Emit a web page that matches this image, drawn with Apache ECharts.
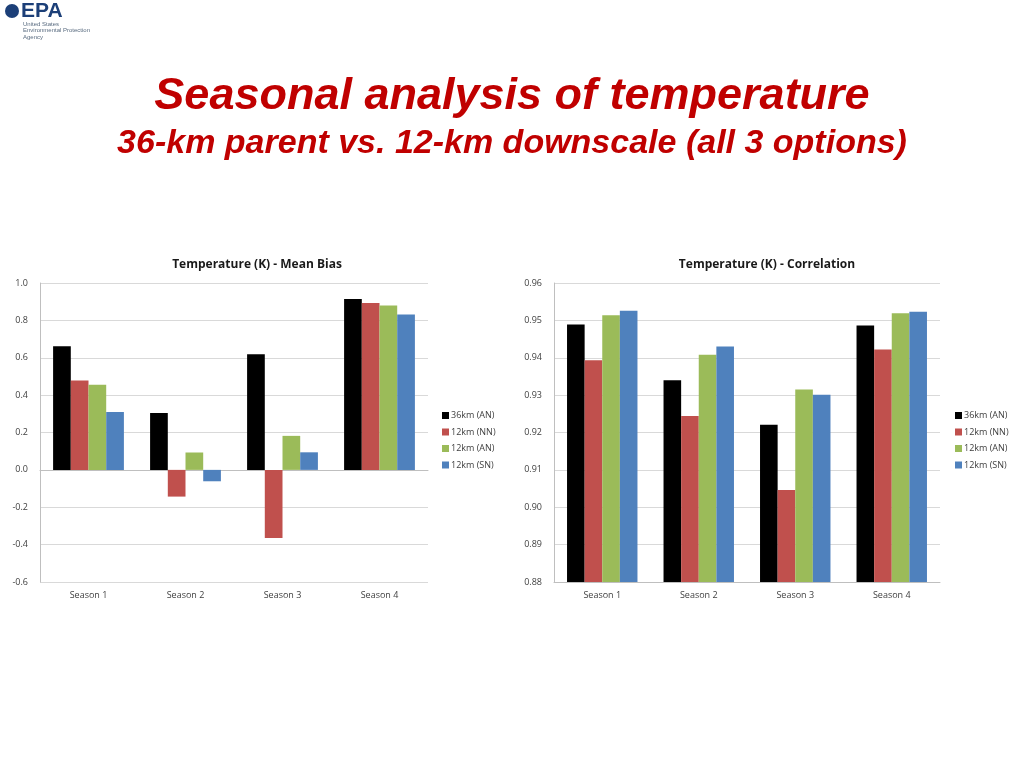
<!DOCTYPE html>
<html>
<head>
<meta charset="utf-8">
<script src="https://cdn.jsdelivr.net/npm/echarts@6/dist/echarts.min.js"></script>
<style>
html,body{margin:0;padding:0;background:#fff;}
#c{width:1024px;height:768px;}
</style>
</head>
<body>
<div id="c"></div>
<script>
const categories = ['Season 1', 'Season 2', 'Season 3', 'Season 4'];
const seriesNames = ['36km (AN)', '12km (NN)', '12km (AN)', '12km (SN)'];
const biasValues = [
  [0.661, 0.305, 0.619, 0.914],
  [0.478, -0.143, -0.364, 0.893],
  [0.456, 0.093, 0.182, 0.879],
  [0.310, -0.061, 0.094, 0.831]
];
const corrValues = [
  [0.9489, 0.9340, 0.9221, 0.9486],
  [0.9393, 0.9244, 0.9046, 0.9422],
  [0.9514, 0.9408, 0.9315, 0.9519],
  [0.9526, 0.9430, 0.9301, 0.9523]
];
const colors = ['#000000', '#c0504d', '#9bbb59', '#4f81bd'];

const chart = echarts.init(document.getElementById('c'));
const labelFont = 'Open Sans';

function mkY(idx, min, max, interval, dec) {
  return {
    type: 'value', gridIndex: idx, min: min, max: max, interval: interval,
    axisLine: {show: true, lineStyle: {color: '#bfbfbf'}},
    axisTick: {show: false},
    splitLine: {lineStyle: {color: '#d9d9d9'}},
    axisLabel: {fontFamily: labelFont, fontSize: 9, color: '#404040', margin: 12,
      formatter: v => v.toFixed(dec)}
  };
}
function mkX(idx) {
  return {
    type: 'category', gridIndex: idx, data: categories,
    axisLine: {show: true, onZero: true, lineStyle: {color: '#bfbfbf'}},
    axisTick: {show: false},
    axisLabel: {fontFamily: labelFont, fontSize: 9, color: '#404040', margin: 9, interval: 0}
  };
}
const series = [];
seriesNames.forEach((n, i) => {
  series.push({name: n, type: 'bar', xAxisIndex: 0, yAxisIndex: 0, data: biasValues[i],
    itemStyle: {color: colors[i]}, barGap: '0%', barCategoryGap: '27%'});
});
seriesNames.forEach((n, i) => {
  series.push({name: n, type: 'bar', xAxisIndex: 1, yAxisIndex: 1, data: corrValues[i],
    itemStyle: {color: colors[i]}, barGap: '0%', barCategoryGap: '27%'});
});
function mkLegend(left) {
  return {
    data: seriesNames, orient: 'vertical', left: left, top: 406,
    itemWidth: 7, itemHeight: 7, itemGap: 7.5, icon: 'rect',
    selectedMode: false,
    textStyle: {fontFamily: labelFont, fontSize: 9, color: '#404040', padding: [0, 0, 0, -3]}
  };
}
chart.setOption({
  animation: false,
  title: [
    {text: 'Seasonal analysis of temperature', left: 'center', top: 69,
      textStyle: {fontFamily: 'Liberation Sans', fontStyle: 'italic', fontWeight: 'bold', fontSize: 45, color: '#c00000'}},
    {text: '36-km parent vs. 12-km downscale (all 3 options)', left: 'center', top: 122,
      textStyle: {fontFamily: 'Liberation Sans', fontStyle: 'italic', fontWeight: 'bold', fontSize: 34, color: '#c00000'}},
    {text: 'Temperature (K) - Mean Bias', left: 252, textAlign: 'center', top: 254,
      textStyle: {fontFamily: labelFont, fontWeight: 'bold', fontSize: 12, color: '#1a1a1a'}},
    {text: 'Temperature (K) - Correlation', left: 762, textAlign: 'center', top: 254,
      textStyle: {fontFamily: labelFont, fontWeight: 'bold', fontSize: 12, color: '#1a1a1a'}}
  ],
  legend: [mkLegend(437), mkLegend(950)],
  grid: [
    {left: 40, top: 283, width: 388, height: 299},
    {left: 554, top: 283, width: 386, height: 299}
  ],
  xAxis: [mkX(0), mkX(1)],
  yAxis: [mkY(0, -0.6, 1.0, 0.2, 1), mkY(1, 0.88, 0.96, 0.01, 2)],
  series: series,
  graphic: [
    {type: 'text', left: 21, top: 1, style: {text: 'EPA', fontFamily: 'Liberation Sans', fontWeight: 'bold', fontSize: 21, fill: '#1c3f78'}},
    {type: 'circle', shape: {cx: 12, cy: 11, r: 7}, style: {fill: '#1c3f78'}},
    {type: 'text', left: 23, top: 21, style: {text: 'United States\nEnvironmental Protection\nAgency', fontFamily: 'Liberation Sans', fontSize: 6, lineHeight: 6.5, fill: '#5a6c80'}}
  ]
});
</script>
</body>
</html>
